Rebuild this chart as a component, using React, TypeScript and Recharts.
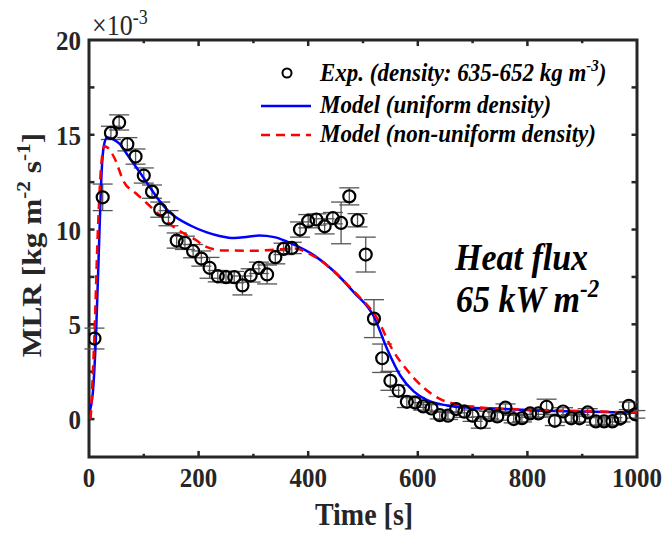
import {
  ComposedChart,
  Line,
  Scatter,
  ErrorBar,
  XAxis,
  YAxis,
  ReferenceArea,
  ReferenceLine,
  Customized,
} from "recharts";

const FONT = "'Liberation Serif', 'Times New Roman', serif";
const INK = "#262626";
const BLUE = "#0000ff";
const RED = "#ff0000";
const STRETCH = 1.12; // the source figure is a bit taller than wide

// experimental MLR (x 1e-3 kg m^-2 s^-1)
const expTime = [
  10, 25, 40, 55, 70, 85, 100, 115, 130, 145, 160, 175, 190, 205, 220, 235, 250, 265, 280, 295,
  310, 325, 340, 355, 370, 385, 400, 415, 430, 445, 460, 475, 490, 505, 520, 535, 550, 565, 580,
  595, 610, 625, 640, 655, 670, 685, 700, 715, 730, 745, 760, 775, 790, 805, 820, 835, 850, 865,
  880, 895, 910, 925, 940, 955, 970, 985, 997,
];
const expMlr = [
  4.25, 11.7, 15.1, 15.65, 14.5, 13.85, 12.85, 12.0, 11.05, 10.6, 9.42, 9.3, 8.86, 8.47, 7.98,
  7.54, 7.49, 7.49, 7.05, 7.58, 7.98, 7.63, 8.54, 8.98, 9.03, 10.0, 10.44, 10.53, 10.17, 10.6,
  10.35, 11.75, 10.49, 8.68, 5.3, 3.21, 2.02, 1.49, 0.91, 0.87, 0.67, 0.56, 0.21, 0.18, 0.53,
  0.39, 0.18, -0.18, 0.21, 0.14, 0.6, 0.0, 0.05, 0.3, 0.3, 0.65, -0.09, 0.4, 0.04, 0.04, 0.35,
  -0.12, -0.12, -0.12, 0.05, 0.7, 0.25,
];
const expErr = [
  0.55, 0.7, 0.35, 0.4, 0.35, 0.4, 0.4, 0.35, 0.4, 0.4, 0.4, 0.35, 0.35, 0.4, 0.55, 0.3, 0.3,
  0.3, 0.5, 0.35, 0.3, 0.5, 0.35, 0.3, 0.3, 0.4, 0.35, 0.3, 0.4, 0.3, 1.1, 0.45, 0.35, 0.92,
  1.0, 0.75, 0.5, 0.3, 0.3, 0.25, 0.2, 0.2, 0.2, 0.2, 0.2, 0.3, 0.3, 0.3, 0.2, 0.2, 0.2, 0.2,
  0.2, 0.2, 0.2, 0.4, 0.25, 0.2, 0.2, 0.2, 0.2, 0.2, 0.2, 0.2, 0.2, 0.2, 0.2,
];

// model, uniform density
const uniTime = [
  0, 7, 13, 19, 23, 27, 33, 45, 55, 70, 98, 129, 144, 186, 215, 240, 265, 290, 310, 338, 374,
  410, 447, 483, 520, 544, 568, 593, 617, 653, 696, 750, 811, 900, 1000,
];
const uniMlr = [
  0.3, 1.4, 4.6, 9.8, 13.0, 14.4, 14.85, 14.75, 14.55, 13.95, 12.8, 11.5, 11.0, 10.2, 9.85,
  9.65, 9.55, 9.62, 9.68, 9.6, 9.2, 8.65, 7.8, 6.7, 5.4, 3.7, 2.3, 1.45, 1.0, 0.72, 0.6, 0.55,
  0.45, 0.4, 0.33,
];

// model, non-uniform density
const nonTime = [
  3, 10, 16, 22, 28, 35, 46, 64, 86, 107, 131, 161, 195, 213, 246, 301, 344, 374, 410, 447, 483,
  526, 553, 580, 611, 641, 671, 720, 800, 900, 1000,
];
const nonMlr = [
  0, 4.5, 9.8, 13.3, 14.4, 14.3, 13.8, 12.5, 11.9, 11.35, 10.7, 10.0, 9.45, 9.1, 8.9, 8.88,
  8.95, 9.0, 8.6, 7.8, 6.75, 5.3, 3.7, 2.6, 1.65, 1.05, 0.78, 0.6, 0.5, 0.42, 0.35,
];

const xTicks = [0, 200, 400, 600, 800, 1000];
const yTicks = [0, 5, 10, 15, 20];
const xMajorInner = [200, 400, 600, 800];
const xMinorInner = [100, 300, 500, 700, 900];
const yInnerTicks = [0, 2.5, 5, 7.5, 10, 12.5, 15, 17.5];

const expData = expTime.map((t, i) => ({ t, v: expMlr[i], err: expErr[i] }));
const uniData = uniTime.map((t, i) => ({ t, v: uniMlr[i] }));
const nonData = nonTime.map((t, i) => ({ t, v: nonMlr[i] }));

const Y_MIN = -2;
const Y_MAX = 20;
const TICK_X = 10; // ~5.5px in seconds
const TICK_MAJ = 0.32; // ~6px in 1e-3 units
const TICK_MIN = 0.17;

function OpenCircle(props: any) {
  const { cx, cy } = props;
  if (cx == null || cy == null) return null;
  return <circle cx={cx} cy={cy} r={6} fill="none" stroke="#000" strokeWidth={2.2} />;
}

function XTick(props: any) {
  const { x, y, payload } = props;
  return (
    <text
      transform={`translate(${x},${y}) scale(1,${STRETCH})`}
      textAnchor="middle"
      dy="0.71em"
      fontFamily={FONT}
      fontWeight={700}
      fontSize={25}
      fill={INK}
    >
      {payload.value}
    </text>
  );
}

function YTick(props: any) {
  const { x, y, payload } = props;
  return (
    <text
      transform={`translate(${x},${y}) scale(1,${STRETCH})`}
      textAnchor="end"
      dy="0.355em"
      fontFamily={FONT}
      fontWeight={700}
      fontSize={25}
      fill={INK}
    >
      {payload.value}
    </text>
  );
}

function Overlay() {
  const bi = { fontFamily: FONT, fontWeight: 700, fontStyle: "italic", fill: "#000" } as const;
  const at = (x: number, y: number) => `translate(${x},${y}) scale(1,${STRETCH})`;
  return (
    <g>
      <text transform={at(92, 35)} fontFamily={FONT} fontSize={26} fill={INK}>
        ×10
        <tspan dy={-10} fontSize={18}>-3</tspan>
      </text>
      <text
        transform={`translate(41,245) rotate(-90) scale(${STRETCH},1)`}
        textAnchor="middle"
        fontFamily={FONT}
        fontWeight={700}
        fontSize={28}
        fill={INK}
      >
        MLR [kg m<tspan dy={-11} fontSize={19}>-2</tspan>
        <tspan dy={11}> s</tspan>
        <tspan dy={-11} fontSize={19}>-1</tspan>
        <tspan dy={11}>]</tspan>
      </text>
      <text transform={at(364, 525)} textAnchor="middle" fontFamily={FONT} fontWeight={700} fontSize={28} fill={INK}>
        Time [s]
      </text>

      {/* legend */}
      <circle cx={287} cy={73} r={4.5} fill="none" stroke="#000" strokeWidth={2} />
      <line x1={261} x2={311} y1={106} y2={106} stroke={BLUE} strokeWidth={2.5} />
      <line x1={261} x2={311} y1={135} y2={135} stroke={RED} strokeWidth={2.5} strokeDasharray="9 6" />
      <text transform={at(320, 81)} fontSize={23} {...bi}>
        Exp. (density: 635-652 kg m<tspan dy={-9} fontSize={15}>-3</tspan>
        <tspan dy={9}>)</tspan>
      </text>
      <text transform={at(320, 113)} fontSize={23} {...bi}>
        Model (uniform density)
      </text>
      <text transform={at(320, 142)} fontSize={23} {...bi}>
        Model (non-uniform density)
      </text>

      <text transform={at(455, 270)} fontSize={34} {...bi}>
        Heat flux
      </text>
      <text transform={at(456, 312)} fontSize={34} {...bi}>
        65 kW m<tspan dy={-13} fontSize={23}>-2</tspan>
      </text>
    </g>
  );
}

export default function App() {
  return (
    <div style={{ position: "absolute", left: 0, top: 0, width: 665, height: 534, background: "#fff" }}>
      <ComposedChart width={665} height={534} margin={{ top: 40, right: 28, bottom: 37, left: 0 }}>
        <XAxis
          dataKey="t"
          type="number"
          domain={[0, 1000]}
          ticks={xTicks}
          allowDataOverflow
          axisLine={false}
          tickLine={false}
          height={40}
          tickMargin={4}
          tick={<XTick />}
        />
        <YAxis
          type="number"
          domain={[Y_MIN, Y_MAX]}
          ticks={yTicks}
          allowDataOverflow
          axisLine={false}
          tickLine={false}
          width={89}
          tick={<YTick />}
        />

        {xMajorInner.map((x) => (
          <ReferenceLine key={"xb" + x} segment={[{ x, y: Y_MIN }, { x, y: Y_MIN + TICK_MAJ }]} stroke={INK} strokeWidth={2.5} />
        ))}
        {xMinorInner.map((x) => (
          <ReferenceLine key={"xbm" + x} segment={[{ x, y: Y_MIN }, { x, y: Y_MIN + TICK_MIN }]} stroke={INK} strokeWidth={2.5} />
        ))}
        {xMajorInner.map((x) => (
          <ReferenceLine key={"xt" + x} segment={[{ x, y: Y_MAX }, { x, y: Y_MAX - TICK_MAJ }]} stroke={INK} strokeWidth={2.5} />
        ))}
        {xMinorInner.map((x) => (
          <ReferenceLine key={"xtm" + x} segment={[{ x, y: Y_MAX }, { x, y: Y_MAX - TICK_MIN }]} stroke={INK} strokeWidth={2.5} />
        ))}
        {yInnerTicks.map((y) => (
          <ReferenceLine key={"yl" + y} segment={[{ x: 0, y }, { x: TICK_X, y }]} stroke={INK} strokeWidth={2.5} />
        ))}
        {yInnerTicks.map((y) => (
          <ReferenceLine key={"yr" + y} segment={[{ x: 1000, y }, { x: 1000 - TICK_X, y }]} stroke={INK} strokeWidth={2.5} />
        ))}

        <Scatter data={expData} dataKey="v" shape={<OpenCircle />} isAnimationActive={false}>
          <ErrorBar dataKey="err" direction="y" width={10} stroke="#555" strokeWidth={1.3} />
        </Scatter>
        <Line
          data={uniData}
          dataKey="v"
          type="monotone"
          stroke={BLUE}
          strokeWidth={2.5}
          dot={false}
          isAnimationActive={false}
        />
        <Line
          data={nonData}
          dataKey="v"
          type="monotone"
          stroke={RED}
          strokeWidth={2.5}
          strokeDasharray="9 6"
          dot={false}
          isAnimationActive={false}
        />

        <ReferenceArea
          x1={0}
          x2={1000}
          y1={Y_MIN}
          y2={Y_MAX}
          fill="none"
          stroke={INK}
          strokeWidth={3}
          ifOverflow="visible"
        />
        <Customized component={Overlay} />
      </ComposedChart>
    </div>
  );
}
